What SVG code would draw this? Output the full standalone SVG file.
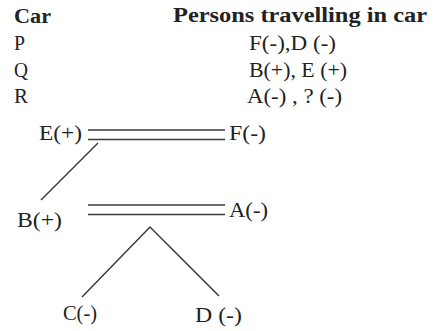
<svg xmlns="http://www.w3.org/2000/svg" width="433" height="331" viewBox="0 0 433 331">
<style>
text{font-family:"Liberation Serif","DejaVu Serif",serif;fill:#222;font-size:20px}
.b{font-weight:bold}
.ln{stroke:#3a3a3a;stroke-width:1.5;fill:none}
</style>
<rect width="433" height="331" fill="#fff"/>
<g id="table">
<text class="b" x="14" y="23" textLength="37" lengthAdjust="spacingAndGlyphs">Car</text>
<text class="b" x="173" y="22" textLength="254" lengthAdjust="spacingAndGlyphs">Persons travelling in car</text>
<text x="14" y="50" textLength="11" lengthAdjust="spacingAndGlyphs">P</text>
<text x="14" y="77" textLength="14" lengthAdjust="spacingAndGlyphs">Q</text>
<text x="14" y="103" textLength="14" lengthAdjust="spacingAndGlyphs">R</text>
<text x="249" y="50" textLength="87" lengthAdjust="spacingAndGlyphs">F(-),D (-)</text>
<text x="249" y="77" textLength="98" lengthAdjust="spacingAndGlyphs">B(+), E (+)</text>
<text x="247" y="103" textLength="95" lengthAdjust="spacingAndGlyphs">A(-) , ? (-)</text>
</g>
<g id="connectors">
<line class="ln" x1="88" y1="130" x2="225" y2="130"/>
<line class="ln" x1="88" y1="139.5" x2="225" y2="139.5"/>
<line class="ln" x1="98" y1="143" x2="41" y2="200"/>
<line class="ln" x1="88" y1="205" x2="225" y2="205"/>
<line class="ln" x1="88" y1="214.5" x2="225" y2="214.5"/>
<polyline class="ln" points="82,297 150,227 219,296"/>
</g>
<g id="nodeE"><text x="39" y="140" textLength="43" lengthAdjust="spacingAndGlyphs">E(+)</text></g>
<g id="nodeF"><text x="229" y="140" textLength="37" lengthAdjust="spacingAndGlyphs">F(-)</text></g>
<g id="nodeB"><text x="17" y="227" textLength="45" lengthAdjust="spacingAndGlyphs">B(+)</text></g>
<g id="nodeA"><text x="229" y="217" textLength="39" lengthAdjust="spacingAndGlyphs">A(-)</text></g>
<g id="nodeC"><text x="63" y="320" textLength="34" lengthAdjust="spacingAndGlyphs">C(-)</text></g>
<g id="nodeD"><text x="195" y="322" textLength="47" lengthAdjust="spacingAndGlyphs">D (-)</text></g>
</svg>
